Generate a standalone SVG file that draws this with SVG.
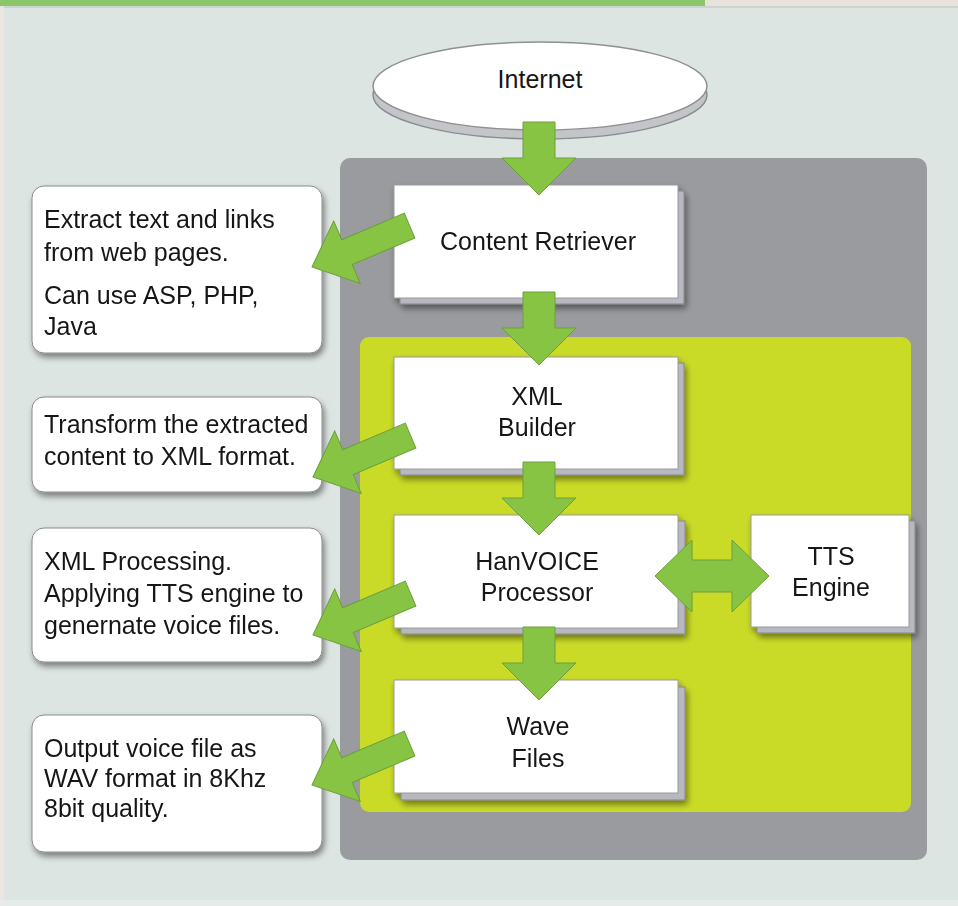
<svg xmlns="http://www.w3.org/2000/svg" width="958" height="906" viewBox="0 0 958 906">
<style>
.t{font-family:"Liberation Sans",Arial,Helvetica,sans-serif;font-size:25px;fill:#161616}
.m{text-anchor:middle}
.box{fill:#ffffff;stroke:#9a9a9a;stroke-width:1}
.bsh{fill:#b8b9c0;stroke:#85868c;stroke-width:1}
.call{fill:#ffffff;stroke:#8a8a8a;stroke-width:1}
.arr{fill:#87c443;stroke:#6c9f3c;stroke-width:1;stroke-linejoin:miter}
</style>
<defs>
<filter id="ds" x="-10%" y="-10%" width="130%" height="140%">
<feGaussianBlur in="SourceAlpha" stdDeviation="3"/>
<feOffset dx="2" dy="4" result="b"/>
<feComponentTransfer><feFuncA type="linear" slope="0.45"/></feComponentTransfer>
<feMerge><feMergeNode/><feMergeNode in="SourceGraphic"/></feMerge>
</filter>
<path id="dn" d="M-16,-73 L16,-73 L16,-37 L37,-37 L0,0 L-37,-37 L-16,-37 Z"/>
<path id="dg" d="M-106,-13.5 L-38,-13.5 L-38,-34 L0,0 L-38,34 L-38,13.5 L-106,13.5 Z"/>
</defs>
<rect x="0" y="0" width="958" height="906" fill="#dde5e3"/>
<rect x="0" y="0" width="4" height="906" fill="#ebe7df"/>
<rect x="0" y="0" width="958" height="8" fill="#e7e3dc"/>
<rect x="0" y="0" width="705" height="6" fill="#8cc66a"/>
<rect x="4" y="6" width="954" height="2" fill="#ccd3d1"/>
<rect x="0" y="900" width="958" height="6" fill="#e6eae8"/>

<g id="containers">
<rect x="340" y="158" width="587" height="702" rx="10" fill="#9a9b9e"/>
<rect x="360" y="337" width="551" height="475" rx="9" fill="#cadb27"/>
</g>

<g id="internet">
<ellipse cx="540" cy="95" rx="167" ry="44" fill="#c3c5c8" stroke="#8a8b8e" stroke-width="1.5"/>
<ellipse cx="540" cy="86" rx="167" ry="44" fill="#ffffff" stroke="#8f9092" stroke-width="1.5"/>
<text class="t m" x="540" y="88">Internet</text>
</g>

<g id="content-retriever" filter="url(#ds)">
<rect class="bsh" x="400" y="191" width="284" height="113"/>
<rect class="box" x="394" y="185" width="284" height="113"/>
<text class="t m" x="538" y="250">Content Retriever</text>
</g>

<g id="xml-builder" filter="url(#ds)">
<rect class="bsh" x="400" y="363" width="284" height="112"/>
<rect class="box" x="394" y="357" width="284" height="112"/>
<text class="t m" x="537" y="405">XML</text>
<text class="t m" x="537" y="436">Builder</text>
</g>

<g id="hanvoice-processor" filter="url(#ds)">
<rect class="bsh" x="401" y="521" width="284" height="113"/>
<rect class="box" x="394" y="515" width="284" height="113"/>
<text class="t m" x="537" y="570">HanVOICE</text>
<text class="t m" x="537" y="601">Processor</text>
</g>

<g id="tts-engine" filter="url(#ds)">
<rect class="bsh" x="757" y="521" width="158" height="112"/>
<rect class="box" x="751" y="515" width="158" height="112"/>
<text class="t m" x="831" y="565">TTS</text>
<text class="t m" x="831" y="596">Engine</text>
</g>

<g id="wave-files" filter="url(#ds)">
<rect class="bsh" x="401" y="687" width="284" height="113"/>
<rect class="box" x="394" y="680" width="284" height="113"/>
<text class="t m" x="538" y="735">Wave</text>
<text class="t m" x="538" y="767">Files</text>
</g>

<g id="note-extract" filter="url(#ds)">
<rect class="call" x="32" y="186" width="290" height="167" rx="12"/>
<text class="t" x="44" y="228">Extract text and links</text>
<text class="t" x="44" y="261">from web pages.</text>
<text class="t" x="44" y="304">Can use ASP, PHP,</text>
<text class="t" x="44" y="335">Java</text>
</g>

<g id="note-transform" filter="url(#ds)">
<rect class="call" x="32" y="397" width="290" height="95" rx="12"/>
<text class="t" x="44" y="433">Transform the extracted</text>
<text class="t" x="44" y="465">content to XML format.</text>
</g>

<g id="note-processing" filter="url(#ds)">
<rect class="call" x="32" y="528" width="290" height="134" rx="12"/>
<text class="t" x="44" y="570">XML Processing.</text>
<text class="t" x="44" y="602">Applying TTS engine to</text>
<text class="t" x="44" y="634">genernate voice files.</text>
</g>

<g id="note-output" filter="url(#ds)">
<rect class="call" x="32" y="715" width="290" height="137" rx="12"/>
<text class="t" x="44" y="757">Output voice file as</text>
<text class="t" x="44" y="787">WAV format in 8Khz</text>
<text class="t" x="44" y="817">8bit quality.</text>
</g>

<g id="connectors">
<use href="#dn" class="arr" transform="translate(539,195)"/>
<use href="#dn" class="arr" transform="translate(539,365)"/>
<use href="#dn" class="arr" transform="translate(539,535)"/>
<use href="#dn" class="arr" transform="translate(539,700)"/>
<use href="#dg" class="arr" transform="translate(312,267) rotate(157)"/>
<use href="#dg" class="arr" transform="translate(313,477) rotate(157)"/>
<use href="#dg" class="arr" transform="translate(313,635) rotate(157)"/>
<use href="#dg" class="arr" transform="translate(312,785) rotate(157)"/>
<path class="arr" d="M655,576 L692,540 L692,560 L732,560 L732,540 L769,576 L732,612 L732,592 L692,592 L692,612 Z"/>
</g>
</svg>
